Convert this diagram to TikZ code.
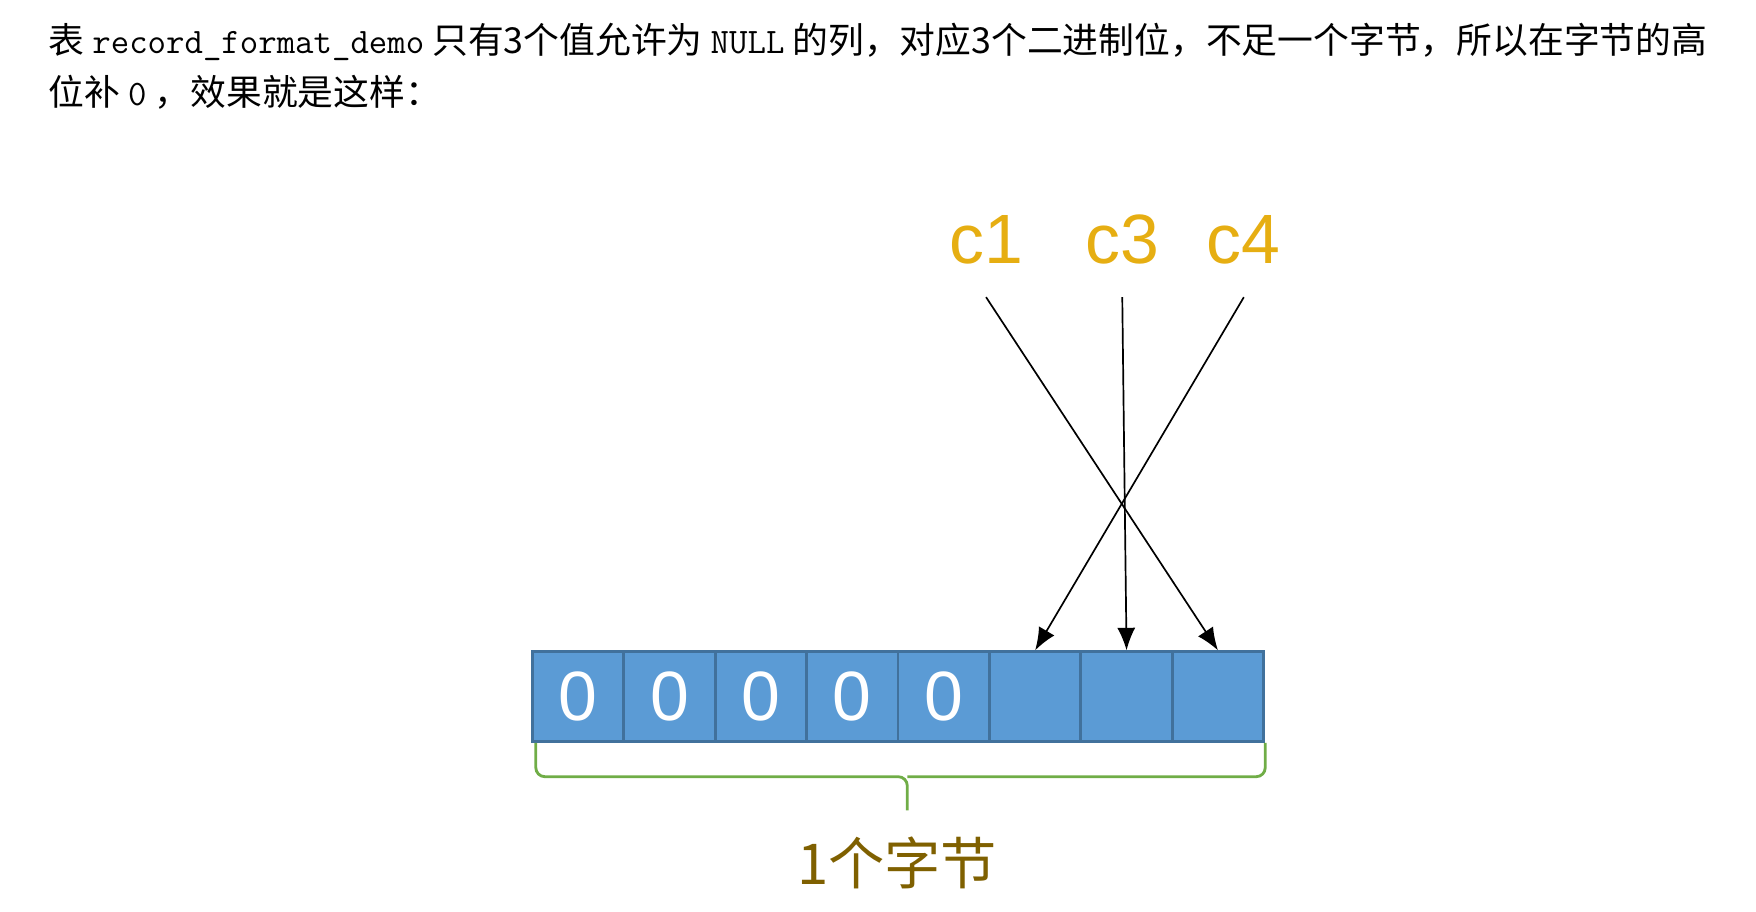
\documentclass[tikz,border=0pt]{standalone}
\usepackage{fontspec}
\setmainfont{Noto Sans CJK SC}
\setmonofont{Latin Modern Mono}
\newfontfamily\lbl{Liberation Sans}
\usetikzlibrary{arrows.meta}
\definecolor{cellfill}{HTML}{5B9BD5}
\definecolor{celldraw}{HTML}{41719C}
\definecolor{gold}{HTML}{E6AE12}
\definecolor{brgreen}{HTML}{70AD47}
\definecolor{olive}{HTML}{7F6000}
\tikzset{
  cell/.style={draw=celldraw, line width=2.5pt, fill=cellfill, minimum width=81.2pt, minimum height=80pt, inner sep=0pt, text=white, font=\lbl\fontsize{62}{62}\selectfont},
  col/.style={text=gold, font=\lbl\fontsize{62}{62}\selectfont, inner sep=0pt},
  conn/.style={-{Latex[length=20pt,width=16pt]}, line width=1.5pt},
  para/.style={anchor=west, inner sep=0pt, font=\fontsize{31.8}{32}\selectfont}
}
\begin{document}
\begin{tikzpicture}[x=1pt,y=-1pt]
\useasboundingbox (0,0) rectangle (1560,810);
\node[para] (l1) at (43,37) {表 \texttt{record\_format\_demo} 只有3个值允许为 \texttt{NULL} 的列，对应3个二进制位，不足一个字节，所以在字节的高};
\node[para] (l2) at (43,82) {位补 \texttt{0} ，效果就是这样：};
\foreach \i/\t in {0/0,1/0,2/0,3/0,4/0,5/{},6/{},7/{}}{
  \node[cell] (b\i) at (473+40.6+81.2*\i, 619) {\t};
}
\node[col] (c1) at (876,213) {c1};
\node[col] (c3) at (997,213) {c3};
\node[col] (c4) at (1105,213) {c4};
\coordinate (s1) at (876,264);
\coordinate (s3) at (997,264);
\coordinate (s4) at (1105,264);
\draw[conn] (s1) -- (b7.north);
\draw[conn] (s3) -- (b6.north);
\draw[conn] (s4) -- (b5.north);
\coordinate (bl) at (476,660);
\coordinate (br) at (1124,660);
\coordinate (tip) at (806,720);
\draw[brgreen, line width=2.5pt, rounded corners=8pt] (bl) -- (476,690) -- (806,690) -- (tip);
\draw[brgreen, line width=2.5pt, rounded corners=8pt] (br) -- (1124,690) -- (806,690);
\node[text=olive, font=\fontsize{50}{50}\selectfont, inner sep=0pt] (lab) at (797,767) {1个字节};
\end{tikzpicture}
\end{document}
